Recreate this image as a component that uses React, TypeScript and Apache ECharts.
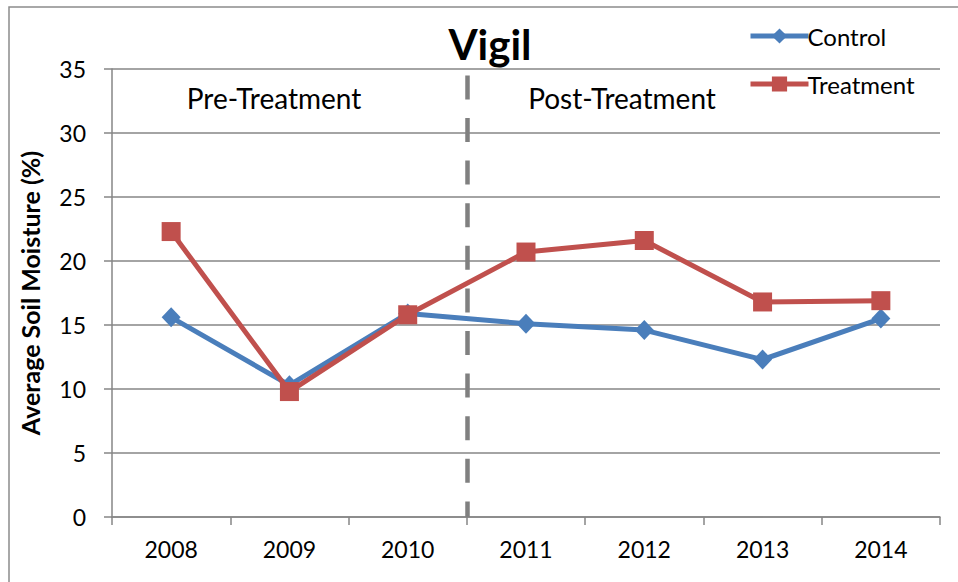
import React, { useEffect, useRef } from "react";
import * as echarts from "echarts";

const years = ["2008", "2009", "2010", "2011", "2012", "2013", "2014"];
const controlValues = [15.6, 10.3, 15.9, 15.1, 14.6, 12.3, 15.5];
const treatmentValues = [22.3, 9.8, 15.8, 20.7, 21.6, 16.8, 16.9];
const yTicks = [0, 5, 10, 15, 20, 25, 30, 35];
const dividerPosition = 3; // boundary between 2010 and 2011
const phaseLabels = ["Pre-Treatment", "Post-Treatment"];

const FONT = "Lato, 'Open Sans', sans-serif";
const GRID_COLOR = "#868686";

export default function App() {
  const ref = useRef<HTMLDivElement>(null);

  useEffect(() => {
    document.body.style.margin = "0";
    const chart = echarts.init(ref.current!, null, { renderer: "svg" });
    const option: any = {
      animation: false,
      backgroundColor: "#ffffff",
      textStyle: { fontFamily: FONT, color: "#000" },
      title: {
        text: "Vigil",
        left: 485,
        top: 18,
        textAlign: "center",
        textStyle: { fontFamily: FONT, fontSize: 42, fontWeight: "bold", color: "#000" },
      },
      legend: {
        orient: "vertical",
        left: 743,
        top: 19,
        itemWidth: 58,
        itemHeight: 19,
        itemGap: 24,
        data: ["Control", "Treatment"],
        lineStyle: { width: 5 },
        textStyle: { fontFamily: FONT, fontSize: 24, color: "#000", lineHeight: 24, padding: [0, 0, 0, -6] },
      },
      graphic: [
        {
          type: "rect",
          shape: { x: 9, y: 7, width: 980, height: 620 },
          style: { fill: "none", stroke: "#8c8c8c", lineWidth: 1.5 },
          silent: true,
        },
        {
          type: "text",
          x: 274,
          y: 98,
          style: {
            text: phaseLabels[0],
            fontFamily: FONT,
            fontSize: 28,
            fill: "#000",
            align: "center",
            verticalAlign: "middle",
          },
        },
        {
          type: "text",
          x: 622,
          y: 98,
          style: {
            text: phaseLabels[1],
            fontFamily: FONT,
            fontSize: 28,
            fill: "#000",
            align: "center",
            verticalAlign: "middle",
          },
        },
      ],
      grid: { left: 112, top: 69, right: 18, bottom: 65, containLabel: false },
      xAxis: [
        {
          type: "category",
          data: years,
          boundaryGap: true,
          axisLine: { lineStyle: { color: GRID_COLOR, width: 1.5 } },
          axisTick: { show: true, length: 8, lineStyle: { color: GRID_COLOR, width: 1.5 } },
          axisLabel: { margin: 20, fontFamily: FONT, fontSize: 23, color: "#000" },
          splitLine: { show: false },
        },
        {
          type: "value",
          min: 0,
          max: years.length,
          show: false,
          splitLine: { show: false },
        },
      ],
      yAxis: {
        type: "value",
        min: yTicks[0],
        max: yTicks[yTicks.length - 1],
        interval: yTicks[1] - yTicks[0],
        name: "Average Soil Moisture (%)",
        nameLocation: "middle",
        nameGap: 70,
        nameRotate: 90,
        nameTextStyle: { fontFamily: FONT, fontSize: 25, fontWeight: "bold", color: "#000" },
        axisLine: { show: true, lineStyle: { color: GRID_COLOR, width: 1.5 } },
        axisTick: { show: true, length: 8, lineStyle: { color: GRID_COLOR, width: 1.5 } },
        axisLabel: { margin: 26, fontFamily: FONT, fontSize: 23, color: "#000" },
        splitLine: { show: true, lineStyle: { color: GRID_COLOR, width: 1.5 } },
      },
      series: [
        {
          name: "Control",
          type: "line",
          data: controlValues,
          symbol: "diamond",
          symbolSize: [19, 20],
          lineStyle: { color: "#4a7ebb", width: 5 },
          itemStyle: { color: "#4a7ebb" },
          z: 3,
        },
        {
          name: "Treatment",
          type: "line",
          data: treatmentValues,
          symbol: "rect",
          symbolSize: 19,
          lineStyle: { color: "#c0504d", width: 5 },
          itemStyle: { color: "#c0504d" },
          z: 4,
        },
        {
          name: "divider",
          type: "line",
          xAxisIndex: 1,
          yAxisIndex: 0,
          data: [],
          symbol: "none",
          silent: true,
          markLine: {
            symbol: "none",
            silent: true,
            label: { show: false },
            lineStyle: { color: "#808080", width: 4.5, type: [24, 18.6] },
            data: [[{ coord: [dividerPosition, 34.5] }, { coord: [dividerPosition, 0] }]],
          },
          z: 2,
        },
      ],
    };
    chart.setOption(option);
    return () => chart.dispose();
  }, []);

  return <div ref={ref} style={{ width: 958, height: 582, position: "absolute", left: 0, top: 0 }} />;
}
